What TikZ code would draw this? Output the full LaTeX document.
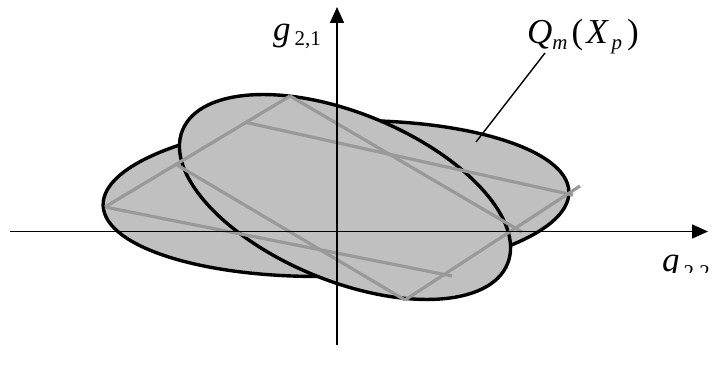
\documentclass[tikz,border=0pt]{standalone}
\usepackage{fontspec}
\setmainfont{Liberation Serif}
\usetikzlibrary{arrows.meta,calc}
\definecolor{fillgray}{HTML}{C0C0C0}
\definecolor{linegray}{HTML}{999999}
\tikzset{
  region/.style={fill=fillgray, draw=black, line width=3.4pt},
  graybar/.style={draw=linegray, line width=3.2pt},
  axisline/.style={draw=black, line width=1.6pt, -{Triangle[length=16pt,width=14pt]}},
  leader/.style={draw=black, line width=1.4pt},
  lbl/.style={inner sep=0pt, anchor=base west, font=\fontsize{35}{35}\selectfont}
}
\newcommand{\subtxt}[2][-5pt]{\raisebox{#1}{\fontsize{21}{21}\selectfont #2}}
\begin{document}
\begin{tikzpicture}[x=1pt,y=1pt]
\useasboundingbox (0,0) rectangle (725,365);
% regions
\draw[region] (336,166.5) ellipse[x radius=233, y radius=77.7, rotate=1.7];
\draw[region] (345,168) ellipse[x radius=175.7, y radius=83.9, rotate=-22.4];
% polygon points
\coordinate (A) at (105,158);
\coordinate (D) at (290,269);
\coordinate (B) at ($(A)!0.384!(D)$);
\coordinate (C) at ($(A)!0.762!(D)$);
\coordinate (E) at (522,133);
\coordinate (F) at (573,170);
\coordinate (H) at (405,65);
\coordinate (G) at (452,89);
\coordinate (I) at (580,179);
\draw[graybar] (A) -- (D);
\draw[graybar] (D) -- (E);
\draw[graybar] (C) -- (F);
\draw[graybar] (B) -- (H);
\draw[graybar] (A) -- (G);
\draw[graybar] (H) -- (I);
% axes
\coordinate (xs) at (10,133.5);
\coordinate (xe) at (708,133.5);
\coordinate (ys) at (337,20);
\coordinate (ye) at (337,358);
\draw[axisline] (xs) -- (xe);
\draw[axisline] (ys) -- (ye);
% labels
\node[lbl] (g21) at (273,324) {\itshape g\kern4pt\upshape\subtxt{2,1}};
\node[lbl] (Q) at (527,321) {\itshape Q\kern0pt\subtxt{m}\kern4pt\upshape(\kern3pt\itshape X\kern4pt\subtxt{p}\kern5pt\upshape)};
\coordinate (Lt) at (545,312);
\coordinate (Lb) at (476,223);
\draw[leader] (Lb) -- (Lt);
\begin{scope}
\clip (640,93) rectangle (725,130);
\node[lbl] (g22) at (662,94) {\itshape g\kern4pt\upshape\subtxt[-8pt]{2,2}};
\end{scope}
\end{tikzpicture}
\end{document}
